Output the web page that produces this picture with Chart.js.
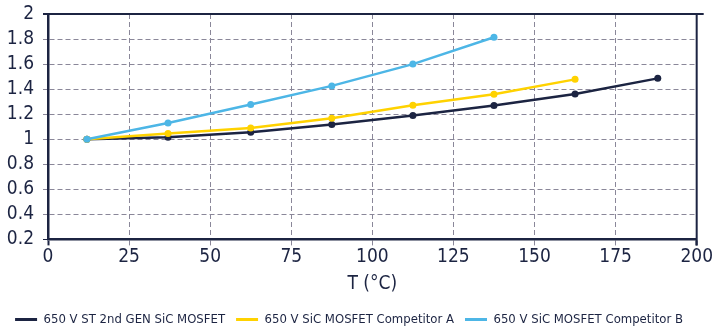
<!DOCTYPE html>
<html>
<head>
<meta charset="utf-8">
<script src="https://cdn.jsdelivr.net/npm/chart.js@4.4.1/dist/chart.umd.min.js"></script>
<style>
html,body{margin:0;padding:0;background:#fff;}
#wrap{width:713px;height:328px;position:relative;}
</style>
</head>
<body>
<div id="wrap"><canvas id="c" width="713" height="328"></canvas></div>
<script>
const temperatures = [12, 37, 62.5, 87.5, 112.5, 137.5, 162.5, 188];
const stValues = [1.0, 1.016, 1.056, 1.118, 1.19, 1.27, 1.362, 1.486];
const compAValues = [1.0, 1.046, 1.09, 1.168, 1.272, 1.36, 1.478];
const compBValues = [1.0, 1.13, 1.278, 1.426, 1.6, 1.814];
const seriesNames = ['650 V ST 2nd GEN SiC MOSFET', '650 V SiC MOSFET Competitor A', '650 V SiC MOSFET Competitor B'];
const xTitle = 'T (°C)';

const NAVY = '#1c2442';
const YELLOW = '#ffd200';
const BLUE = '#4db6e6';
const GRID = '#8a8799';
const FONT = "'DejaVu Sans Condensed', 'Liberation Sans Narrow', sans-serif";

function pts(vals){ return vals.map((v,i)=>({x:temperatures[i], y:v})); }

const framePlugin = {
  id:'frame',
  afterDatasetsDraw(chart){
    const {ctx, chartArea:a} = chart;
    ctx.save();
    ctx.strokeStyle = NAVY;
    ctx.lineWidth = 2;
    ctx.beginPath();
    ctx.moveTo(a.left-5, a.top); ctx.lineTo(a.right+7, a.top);
    ctx.moveTo(a.right, a.top); ctx.lineTo(a.right, a.bottom+6);
    ctx.stroke();
    ctx.restore();
  }
};

new Chart(document.getElementById('c'), {
  type:'line',
  data:{
    datasets:[
      {label:seriesNames[0], data:pts(stValues), borderColor:NAVY, backgroundColor:NAVY, order:3},
      {label:seriesNames[1], data:pts(compAValues), borderColor:YELLOW, backgroundColor:YELLOW, order:2},
      {label:seriesNames[2], data:pts(compBValues), borderColor:BLUE, backgroundColor:BLUE, order:1}
    ]
  },
  options:{
    responsive:false,
    animation:false,
    devicePixelRatio:1,
    layout:{padding:{left:0,right:15,top:0,bottom:-8}},
    elements:{
      line:{borderWidth:2.5, tension:0},
      point:{radius:3.5, borderWidth:0, hoverRadius:3.5}
    },
    plugins:{
      tooltip:{enabled:false},
      legend:{
        position:'bottom',
        labels:{
          font:{family:FONT, size:13},
          color:NAVY,
          boxWidth:22, boxHeight:3,
          padding:11,
          generateLabels(chart){
            return chart.data.datasets.map((d,i)=>({
              text:d.label, fillStyle:d.borderColor, strokeStyle:d.borderColor,
              lineWidth:0, hidden:false, datasetIndex:i, fontColor:NAVY
            }));
          }
        }
      }
    },
    scales:{
      x:{
        type:'linear', min:0, max:200,
        ticks:{stepSize:25, font:{family:FONT, size:19}, color:NAVY, padding:0, maxRotation:0, autoSkip:false},
        grid:{color:GRID, lineWidth:1, tickLength:6, drawTicks:true,
              tickColor:(c)=> (c.tick && (c.tick.value===0||c.tick.value===200)) ? NAVY : GRID,
              tickWidth:(c)=> (c.tick && (c.tick.value===0||c.tick.value===200)) ? 2 : 1},
        border:{display:true, color:NAVY, width:2.5, dash:[5,3]},
        title:{display:true, text:xTitle, font:{family:FONT, size:19}, color:NAVY, padding:{top:4,bottom:7}}
      },
      y:{
        type:'linear', min:0.2, max:2,
        ticks:{stepSize:0.2, font:{family:FONT, size:19}, color:NAVY, padding:9, autoSkip:false,
               callback:(v)=> String(Math.round(v*10)/10)},
        grid:{color:GRID, lineWidth:1, tickLength:5, tickBorderDash:[5,3],
              tickColor:(c)=> (c.tick && (Math.abs(c.tick.value-0.2)<1e-6||Math.abs(c.tick.value-2)<1e-6)) ? NAVY : GRID},
        border:{display:true, color:NAVY, width:2.5, dash:[5,3]},
        afterFit(s){ s.width = 48; s.paddingTop = 14; s.paddingBottom = 0; }
      }
    }
  },
  plugins:[framePlugin]
});
</script>
</body>
</html>
